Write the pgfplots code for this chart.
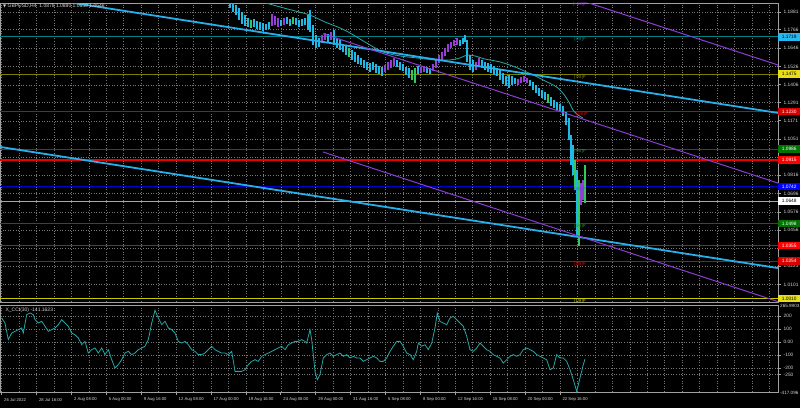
\documentclass[border=0pt]{standalone}
\usepackage{pgfplots}
\pgfplotsset{compat=1.18}
\usepackage{pgfplotstable}
\usepackage{fontspec}
\setmainfont{Liberation Sans}
\newfontfamily\dejavu{DejaVu Sans}
\definecolor{barcyan}{RGB}{30,185,230}
\definecolor{barpurple}{RGB}{150,60,215}
\definecolor{bargreen}{RGB}{50,200,90}
\definecolor{trendcyan}{RGB}{40,175,235}
\definecolor{chanpurple}{RGB}{140,60,210}
\definecolor{mateal}{RGB}{40,170,165}
\definecolor{cciteal}{RGB}{40,165,165}
\definecolor{mm8}{RGB}{0,128,128}
\definecolor{mm7}{RGB}{128,128,0}
\definecolor{mm6}{RGB}{160,20,20}
\definecolor{mm5}{RGB}{0,110,0}
\definecolor{mm4}{RGB}{0,0,200}
\definecolor{mm1}{RGB}{200,200,0}
\definecolor{srred}{RGB}{235,0,0}
\definecolor{txt}{RGB}{215,215,215}
\definecolor{gridc}{RGB}{120,120,120}
\definecolor{framec}{RGB}{160,160,160}

\pgfplotstableread{
x lo hi
230 1.1907 1.1992
233 1.1881 1.1959
236 1.1861 1.1927
239 1.1829 1.1907
242 1.1803 1.1881
245 1.1790 1.1861
248 1.1783 1.1842
254 1.1783 1.1835
257 1.1770 1.1822
260 1.1763 1.1816
263 1.1757 1.1809
266 1.1763 1.1803
269 1.1770 1.1816
281 1.1790 1.1829
287 1.1803 1.1848
290 1.1790 1.1835
296 1.1796 1.1842
299 1.1783 1.1829
302 1.1790 1.1835
305 1.1796 1.1842
308 1.1763 1.1861
310 1.1750 1.1894
313 1.1666 1.1796
316 1.1646 1.1731
319 1.1652 1.1711
328 1.1685 1.1737
334 1.1666 1.1763
337 1.1646 1.1711
340 1.1633 1.1698
343 1.1620 1.1672
346 1.1600 1.1666
352 1.1568 1.1633
355 1.1555 1.1620
358 1.1541 1.1600
361 1.1535 1.1581
364 1.1515 1.1568
367 1.1502 1.1555
370 1.1489 1.1548
373 1.1502 1.1555
376 1.1483 1.1541
379 1.1476 1.1528
382 1.1463 1.1522
397 1.1522 1.1568
400 1.1502 1.1555
403 1.1496 1.1541
406 1.1470 1.1522
409 1.1450 1.1515
418 1.1476 1.1528
427 1.1483 1.1522
430 1.1476 1.1515
460 1.1659 1.1698
463 1.1672 1.1711
465 1.1685 1.1731
467 1.1555 1.1698
470 1.1502 1.1600
473 1.1489 1.1568
482 1.1515 1.1568
485 1.1502 1.1555
488 1.1489 1.1548
491 1.1483 1.1541
494 1.1470 1.1528
497 1.1463 1.1515
500 1.1437 1.1502
503 1.1411 1.1483
506 1.1398 1.1463
509 1.1385 1.1470
512 1.1404 1.1463
515 1.1411 1.1450
530 1.1398 1.1437
533 1.1372 1.1424
536 1.1352 1.1404
539 1.1333 1.1385
542 1.1320 1.1372
545 1.1306 1.1359
551 1.1267 1.1326
554 1.1254 1.1306
557 1.1241 1.1293
560 1.1228 1.1280
563 1.1202 1.1267
566 1.1143 1.1228
569 1.1045 1.1189
571 1.0882 1.1078
573 1.0817 1.1013
577 1.0425 1.0849
}\barscyan

\pgfplotstableread{
x lo hi
272 1.1790 1.1868
275 1.1796 1.1855
278 1.1783 1.1842
284 1.1796 1.1842
322 1.1679 1.1731
325 1.1698 1.1744
331 1.1698 1.1750
385 1.1489 1.1535
388 1.1502 1.1555
391 1.1515 1.1568
394 1.1528 1.1581
421 1.1483 1.1522
424 1.1489 1.1528
433 1.1496 1.1541
436 1.1515 1.1568
439 1.1548 1.1600
442 1.1568 1.1620
445 1.1594 1.1646
448 1.1620 1.1672
451 1.1646 1.1685
454 1.1659 1.1698
457 1.1666 1.1711
476 1.1502 1.1555
479 1.1528 1.1581
518 1.1404 1.1444
521 1.1417 1.1457
524 1.1424 1.1463
527 1.1417 1.1450
581 1.0621 1.0765
583 1.0653 1.0784
}\barspurple

\pgfplotstableread{
x lo hi
251 1.1777 1.1829
293 1.1803 1.1848
349 1.1587 1.1646
412 1.1437 1.1502
415 1.1417 1.1515
548 1.1287 1.1346
575 1.0717 1.0915
579 1.0356 1.0784
585 1.0633 1.0882
}\barsgreen

\pgfplotstableread{
x p
250 1.1979
263 1.1946
280 1.1914
295 1.1888
310 1.1861
325 1.1816
340 1.1777
350 1.1744
365 1.1685
383 1.1620
400 1.1594
417 1.1581
435 1.1568
450 1.1568
460 1.1581
467 1.1600
475 1.1594
485 1.1574
500 1.1555
515 1.1522
533 1.1470
545 1.1431
555 1.1398
560 1.1372
565 1.1333
570 1.1280
573 1.1241
578 1.1208
583 1.1189
}\matable

\pgfplotstableread{
x v
1.7 185
5 146
8.3 18
11.7 69
15 82
18.3 95
21.7 108
23.3 69
26.7 210
30 223
33.3 210
35 172
38.3 146
41.7 159
45 121
48.3 82
51.7 95
55 108
58.3 133
61.7 172
65 146
68.3 121
71.7 69
75 56
78.3 31
81.7 -21
85 5
88.3 -85
91.7 -59
95 -46
98.3 -85
101.7 -46
105 -97
108.3 -59
111.7 -136
115 -200
118.3 -174
121.7 -136
125 -85
128.3 -72
131.7 -97
135 -85
138.3 -59
141.7 -46
145 -33
148.3 18
151.7 146
155 244
158.3 185
161.7 133
165 159
168.3 108
171.7 95
175 69
178.3 5
181.7 -8
185 5
188.3 -21
191.7 -59
195 -72
198.3 -97
201.7 -97
205 -85
208.3 -59
211.7 -33
215 -59
218.3 -72
221.7 -85
225 -85
228.3 -97
231.7 -72
235 -226
238.3 -226
241.7 -226
245 -213
248.3 -174
251.7 -149
255 -136
258.3 -149
261.7 -110
265 -97
268.3 -85
271.7 -72
275 -59
278.3 -46
281.7 -33
285 -59
288.3 -21
291.7 -8
295 5
298.3 5
301.7 18
305 5
306.7 -8
310 95
311.7 18
315 -226
317.3 -290
320 -251
323.3 -123
326.7 -97
330 -85
333.3 -110
336.7 -97
340 -85
343.3 -110
346.7 -97
350 -123
353.3 -110
356.7 -123
360 -123
363.3 -149
366.7 -136
370 -123
373.3 -110
376.7 -123
380 -149
383.3 -149
386.7 -123
390 -72
393.3 -33
396.7 5
400 5
403.3 -33
406.7 -85
410 -97
413.3 -136
416.7 -72
418.3 -8
421.7 -33
425 -21
428.3 -59
431.7 -8
435 108
437.3 223
440 159
443.3 146
446.7 133
450 185
453.3 197
456.7 172
460 146
463.3 121
466.7 44
470 -59
473.3 -72
476.7 -46
480 -8
483.3 -33
486.7 -59
490 -72
493.3 -97
496.7 -110
500 -123
503.3 -162
506.7 -136
510 -110
513.3 -97
516.7 -110
520 -97
523.3 -59
526.7 -46
530 -59
533.3 -72
536.7 -97
540 -110
543.3 -123
546.7 -136
550 -213
553.3 -200
556.7 -97
560 -123
563.3 -123
566.7 -149
570 -213
573.3 -290
576.7 -380
580 -277
583.3 -174
585 -131
}\ccitable

\pgfplotsset{
  mt/.style={
    scale only axis, xmin=0, xmax=778,
    axis line style={draw=framec, line width=0.6pt},
    grid=major,
    major grid style={draw=gridc, line width=0.4pt, dash pattern=on 1pt off 1.6pt},
    xtick={1.5,18.95,...,770}, xticklabels={}, xtick style={draw=none},
    yticklabel pos=right, ytick pos=right,
    ytick style={draw=framec, line width=0.5pt},
    tick align=outside, major tick length=2.5pt,
    yticklabel style={font=\fontsize{4.8}{5}\selectfont, text=txt, anchor=west, xshift=-0.3pt},
    clip mode=individual,
  },
  bars/.style={draw=none, mark=none, forget plot,
    error bars/.cd, y dir=minus, y explicit, error mark=none,
    error bar style={#1, line width=2.6pt}},
}
\tikzset{
  lbl/.style={font=\fontsize{4.3}{5}\selectfont, inner sep=0pt},
  box/.style={anchor=west, minimum width=22pt, minimum height=7.4pt, inner sep=0pt,
    font=\fontsize{4.8}{5}\selectfont},
}

\begin{document}
\begin{tikzpicture}
\fill[black] (0pt,0pt) rectangle (800pt,408pt);
\useasboundingbox (0pt,0pt) rectangle (800pt,408pt);

% ---------------- main price pane ----------------
\begin{axis}[mt, at={(0pt,106pt)}, anchor=south west, width=778pt, height=299pt,
  ymin=0.99873, ymax=1.19398,
  ytick={1.1881,1.1766,1.1646,1.1526,1.1406,1.1291,1.1171,1.1051,1.0936,1.0816,1.0696,1.0576,1.0456,1.0341,1.0221,1.0101},
  yticklabels={1.1881,1.1766,1.1646,1.1526,1.1406,1.1291,1.1171,1.1051,,1.0816,1.0696,1.0576,1.0456,,1.0221,1.0101},
]
% Murray levels and horizontal lines
\addplot[mm8, line width=0.8pt] coordinates {(0,1.1719) (778,1.1719)};
\addplot[mm7, line width=0.8pt] coordinates {(0,1.1475) (778,1.1475)};
\addplot[mm6, line width=0.8pt] coordinates {(0,1.1230) (778,1.1230)};
\addplot[mm5, line width=0.7pt] coordinates {(0,1.0986) (778,1.0986)};
\addplot[mm4, line width=0.8pt] coordinates {(0,1.0742) (778,1.0742)};
\addplot[mm5, line width=0.7pt] coordinates {(0,1.0498) (778,1.0498)};
\addplot[mm6, line width=0.8pt] coordinates {(0,1.0254) (778,1.0254)};
\addplot[mm1, line width=0.8pt] coordinates {(0,1.0010) (778,1.0010)};
\addplot[gray!70, line width=0.6pt] coordinates {(0,1.0648) (778,1.0648)};
\addplot[srred, line width=1.4pt] coordinates {(0,1.0915) (778,1.0915)};
\addplot[srred, line width=1.4pt] coordinates {(0,1.0355) (778,1.0355)};
% price bars
\addplot[bars=barcyan] table[x=x, y=hi, y error minus expr=\thisrow{hi}-\thisrow{lo}] {\barscyan};
\addplot[bars=barpurple] table[x=x, y=hi, y error minus expr=\thisrow{hi}-\thisrow{lo}] {\barspurple};
\addplot[bars=bargreen] table[x=x, y=hi, y error minus expr=\thisrow{hi}-\thisrow{lo}] {\barsgreen};
% moving average
\addplot[mateal, line width=0.8pt, smooth] table[x=x, y=p] {\matable};
% trend lines
\addplot[trendcyan, line width=1.8pt] coordinates {(0,1.2015) (778,1.1222)};
\addplot[trendcyan, line width=1.8pt] coordinates {(0,1.1000) (778,1.0209)};
% regression channel
\addplot[chanpurple, line width=1pt] coordinates {(323,1.2509) (778,1.1535)};
\addplot[chanpurple, line width=1pt] coordinates {(323,1.1739) (778,1.0764)};
\addplot[chanpurple, line width=1pt] coordinates {(323,1.0967) (778,0.9990)};
% level labels
\node[lbl, text=chanpurple] at (axis cs:580,1.1930) {[+1/8]P};
\node[lbl, text=mm8, below=0.6pt] at (axis cs:580,1.1719) {[8/8]P};
\node[lbl, text=mm7, below=0.6pt] at (axis cs:580,1.1475) {[7/8]P};
\node[lbl, text=srred, below=0.6pt] at (axis cs:582,1.1230) {[6/8]P};
\node[lbl, text=mm5!80!white, below=0.6pt] at (axis cs:580,1.0986) {[5/8]P};
\node[lbl, text=mm4!70!white, below=0.6pt] at (axis cs:580,1.0742) {[4/8]P};
\node[lbl, text=mm5!80!white, below=0.6pt] at (axis cs:580,1.0498) {[3/8]P};
\node[lbl, text=srred, below=0.6pt] at (axis cs:580,1.0254) {[2/8]P};
\node[lbl, text=mm1, below=0.6pt] at (axis cs:580,1.0010) {[1/8]P};
% coordinates for price boxes
\coordinate (B1) at (axis cs:778,1.1719);
\coordinate (B2) at (axis cs:778,1.1475);
\coordinate (B3) at (axis cs:778,1.1230);
\coordinate (B4) at (axis cs:778,1.0986);
\coordinate (B5) at (axis cs:778,1.0915);
\coordinate (B6) at (axis cs:778,1.0742);
\coordinate (B7) at (axis cs:778,1.0648);
\coordinate (B8) at (axis cs:778,1.0498);
\coordinate (B9) at (axis cs:778,1.0355);
\coordinate (B10) at (axis cs:778,1.0254);
\coordinate (B11) at (axis cs:778,1.0010);
\end{axis}

% ---------------- CCI pane ----------------
\begin{axis}[mt, at={(0pt,16pt)}, anchor=south west, width=778pt, height=87pt,
  ymin=-384.6, ymax=284.6,
  ytick={200,100,0,-100,-200,-250},
  yticklabels={200,100,0.00,-100,-200,-250},
  xtick pos=bottom,
  extra x ticks={1.5,36.4,71.3,106.2,141.1,176,210.9,245.8,280.7,315.6,350.5,385.4,420.3,455.2,490.1,525,559.9},
  extra x tick labels={26 Jul 2022,28 Jul 16:00,2 Aug 08:00,5 Aug 00:00,9 Aug 16:00,12 Aug 08:00,17 Aug 00:00,19 Aug 16:00,24 Aug 08:00,29 Aug 00:00,31 Aug 16:00,5 Sep 08:00,8 Sep 00:00,12 Sep 16:00,15 Sep 08:00,20 Sep 00:00,22 Sep 16:00},
  extra x tick style={grid=none, xtick style={draw=framec, line width=0.5pt}, major tick length=3pt,
    xticklabel style={font=\fontsize{4.2}{5}\selectfont, text=txt, anchor=north west, xshift=-0.8pt, yshift=0.5pt}},
]
\addplot[cciteal, line width=0.8pt] table[x=x, y=v] {\ccitable};
\node[font=\fontsize{5}{6}\selectfont, text=txt, anchor=west] at (axis cs:2,245) {X\_CCI(30) -141.1623};
\end{axis}

% price boxes on the right scale
\node[box, fill=cyan!85!white, text=black] at (B1) {1.1719};
\node[box, fill=yellow!90!black, text=black] at (B2) {1.1475};
\node[box, fill=red!85!black, text=white] at (B3) {1.1230};
\node[box, fill=green!45!black, text=white] at (B4) {1.0986};
\node[box, fill=red, text=white] at (B5) {1.0915};
\node[box, fill=blue, text=white] at (B6) {1.0742};
\node[box, fill=white, text=black] at (B7) {1.0648};
\node[box, fill=green!45!black, text=white] at (B8) {1.0498};
\node[box, fill=red, text=white] at (B9) {1.0355};
\node[box, fill=red!85!black, text=white] at (B10) {1.0254};
\node[box, fill=yellow!90!black, text=black] at (B11) {1.0010};

% CCI extreme labels and title
\node[font=\fontsize{4.6}{5}\selectfont, text=txt, anchor=west, inner sep=0pt] at (780pt,102pt) {265.9903};
\node[font=\fontsize{4.6}{5}\selectfont, text=txt, anchor=west, inner sep=0pt] at (780pt,15.5pt) {-417.096};
\node[font=\fontsize{5}{6}\selectfont, text=txt, anchor=west, inner sep=0pt] at (3pt,401.5pt) {{\dejavu\fontsize{4}{5}\selectfont ▼}\ GBPUSD,H4\ \ 1.0878\ 1.0880\ 1.0650\ 1.0648};
\end{tikzpicture}
\end{document}
